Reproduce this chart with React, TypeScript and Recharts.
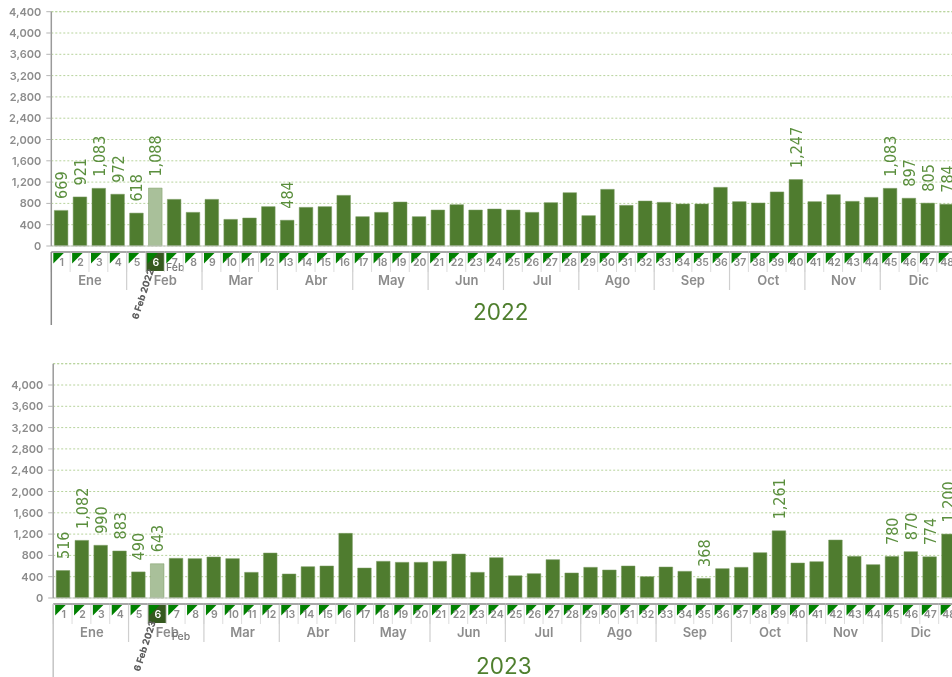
import { BarChart, Bar, Cell, XAxis, YAxis, CartesianGrid, LabelList, ReferenceLine } from "recharts";

const weeks = Array.from({ length: 48 }, (_, i) => i + 1);
const months = ["Ene", "Feb", "Mar", "Abr", "May", "Jun", "Jul", "Ago", "Sep", "Oct", "Nov", "Dic"];

const values2022 = [
  669, 921, 1083, 972, 618, 1088, 876, 632, 876, 500, 526, 739,
  484, 726, 739, 951, 551, 632, 826, 551, 676, 776, 676, 695,
  676, 632, 814, 1001, 570, 1064, 764, 845, 820, 789, 789, 1102,
  833, 808, 1015, 1247, 833, 964, 839, 914, 1083, 897, 805, 784,
];
const values2023 = [
  516, 1082, 990, 883, 490, 643, 745, 739, 770, 739, 482, 845,
  451, 588, 601, 1214, 563, 689, 670, 670, 689, 826, 482, 757,
  419, 457, 720, 470, 576, 526, 601, 401, 582, 501, 368, 551,
  576, 851, 1261, 657, 682, 1089, 782, 626, 780, 870, 774, 1200,
];

const labeled2022 = [1, 2, 3, 4, 5, 6, 13, 40, 45, 46, 47, 48];
const labeled2023 = [1, 2, 3, 4, 5, 6, 35, 39, 45, 46, 47, 48];

const ticks2022 = [0, 400, 800, 1200, 1600, 2000, 2400, 2800, 3200, 3600, 4000, 4400];
const ticks2023 = [0, 400, 800, 1200, 1600, 2000, 2400, 2800, 3200, 3600, 4000];

const currentWeek = 6;
const STEP = 18.84;
const GREY = "#8c8c8c";
const GRID = "#b7d39c";
const UI_FONT = "Inter, 'Open Sans', sans-serif";

function WeekTick({ x, y, payload, leftColor, febDx, febDy, stamp }: any) {
  const week = payload.value as number;
  const left = x - STEP / 2;
  const isFirst = week === 1;
  const isCurrent = week === currentWeek;
  return (
    <g fontFamily={UI_FONT} fontWeight={600}>
      <line x1={left} x2={left + STEP} y1={y + 6} y2={y + 6} stroke="#8a8a8a" strokeWidth={1.5} />
      <line x1={left} x2={left} y1={y + 7} y2={y + 26} stroke="#dcdcdc" />
      {week % 4 === 1 && !isFirst && <line x1={left} x2={left} y1={y + 7} y2={y + 44} stroke="#cfcfcf" strokeWidth={1.2} />}
      {isFirst && <line x1={left} x2={left} y1={y + 6} y2={y + 79} stroke={leftColor} strokeWidth={1.5} />}
      {isCurrent && <rect x={x - 8.5} y={y + 7} width={18} height={18} fill="#35591f" />}
      <polygon
        points={`${left + 2},${y + 7} ${left + 12.5},${y + 7} ${left + 2},${y + 17.5}`}
        fill="#008000"
      />
      <text x={x + 1} y={y + 20} textAnchor="middle" fontSize={10.5} fill={isCurrent ? "#ffffff" : GREY}>
        {week}
      </text>
      {week % 4 === 2 && (
        <text x={x + STEP / 2 + 1} y={y + 39} textAnchor="middle" fontSize={13} fill={GREY}>
          {months[(week - 2) / 4]}
        </text>
      )}
      {isCurrent && (
        <>
          <text x={x + febDx} y={y + febDy} fontSize={10.5} fill="#777777" fontWeight={500}>Feb</text>
          <text
            transform={`translate(${x - 17},${y + 74}) rotate(-72)`}
            fontSize={9.5}
            fontWeight={800}
            fill="#5e5e5e"
          >
            {stamp}
          </text>
        </>
      )}
    </g>
  );
}

function YTick({ x, y, payload }: any) {
  return (
    <text x={x} y={y + 4} textAnchor="end" fontFamily={UI_FONT} fontWeight={600} fontSize={11} fill={GREY}>
      {payload.value.toLocaleString("en-US")}
    </text>
  );
}

function weekLabel(labeled: number[]) {
  return function BarValue({ x, y, width, index, value }: any) {
    if (!labeled.includes(index + 1)) return null;
    const cx = x + width / 2 + 6;
    return (
      <text
        transform={`translate(${cx},${y - 11.5}) rotate(-90)`}
        fontFamily="'DejaVu Sans', sans-serif"
        fontSize={16}
        fill="#5b8f3e"
        style={{ fontStretch: "condensed" }}
      >
        {value.toLocaleString("en-US")}
      </text>
    );
  };
}

function WeeklyChart({ values, labeled, ticks, top, axisWidth, marginTop, leftColor, febDx, febDy, stamp }: any) {
  const data = weeks.map((week, i) => ({ week, value: values[i] }));
  return (
    <div style={{ position: "absolute", left: 0, top }}>
      <BarChart
        width={960}
        height={marginTop + 234.3 + 80}
        data={data}
        margin={{ top: marginTop, right: 960 - axisWidth - 48 * STEP, left: 0, bottom: 0 }}
        barSize={13.6}
      >
        <CartesianGrid vertical={false} stroke={GRID} strokeDasharray="2 2" />
        <XAxis
          dataKey="week"
          interval={0}
          height={80}
          axisLine={{ stroke: "#c9c9c9" }}
          tickLine={false}
          tickSize={0}
          tickMargin={0}
          tick={<WeekTick leftColor={leftColor} febDx={febDx} febDy={febDy} stamp={stamp} />}
        />
        <YAxis
          width={axisWidth}
          domain={[0, 4400]}
          ticks={ticks}
          interval={0}
          axisLine={{ stroke: "#9a9a9a", strokeWidth: 1.5 }}
          tickLine={{ stroke: "#b5b5b5" }}
          tickSize={5}
          tickMargin={5}
          tick={<YTick />}
        />
        <ReferenceLine y={4400} stroke={GRID} strokeDasharray="2 2" />
        <Bar dataKey="value" isAnimationActive={false} stroke="#7c9c64" strokeWidth={0.5}>
          {data.map((d) => (
            <Cell key={d.week} fill={d.week === currentWeek ? "#a9c09a" : "#4f7c2f"} />
          ))}
          <LabelList dataKey="value" content={weekLabel(labeled)} />
        </Bar>
      </BarChart>
    </div>
  );
}

const yearStyle = {
  position: "absolute",
  fontFamily: UI_FONT,
  fontSize: 22.5,
  color: "#4f7f2e",
  lineHeight: "28px",
} as const;

export default function App() {
  return (
    <div
      style={{
        position: "absolute",
        left: 0,
        top: 0,
        width: 952,
        height: 677,
        overflow: "hidden",
        background: "#ffffff",
        filter: "blur(0.45px)",
      }}
    >
      <WeeklyChart
        values={values2022}
        labeled={labeled2022}
        ticks={ticks2022}
        top={0}
        axisWidth={51.3}
        marginTop={11.7}
        leftColor="#8a8a8a"
        febDx={11}
        febDy={25}
        stamp="6 Feb 2022"
      />
      <WeeklyChart
        values={values2023}
        labeled={labeled2023}
        ticks={ticks2023}
        top={350}
        axisWidth={53.2}
        marginTop={13.7}
        leftColor="#c4c4c4"
        febDx={15}
        febDy={42}
        stamp="6 Feb 2023"
      />
      <div style={{ ...yearStyle, left: 473, top: 298 }}>2022</div>
      <div style={{ ...yearStyle, left: 476, top: 652 }}>2023</div>
    </div>
  );
}
